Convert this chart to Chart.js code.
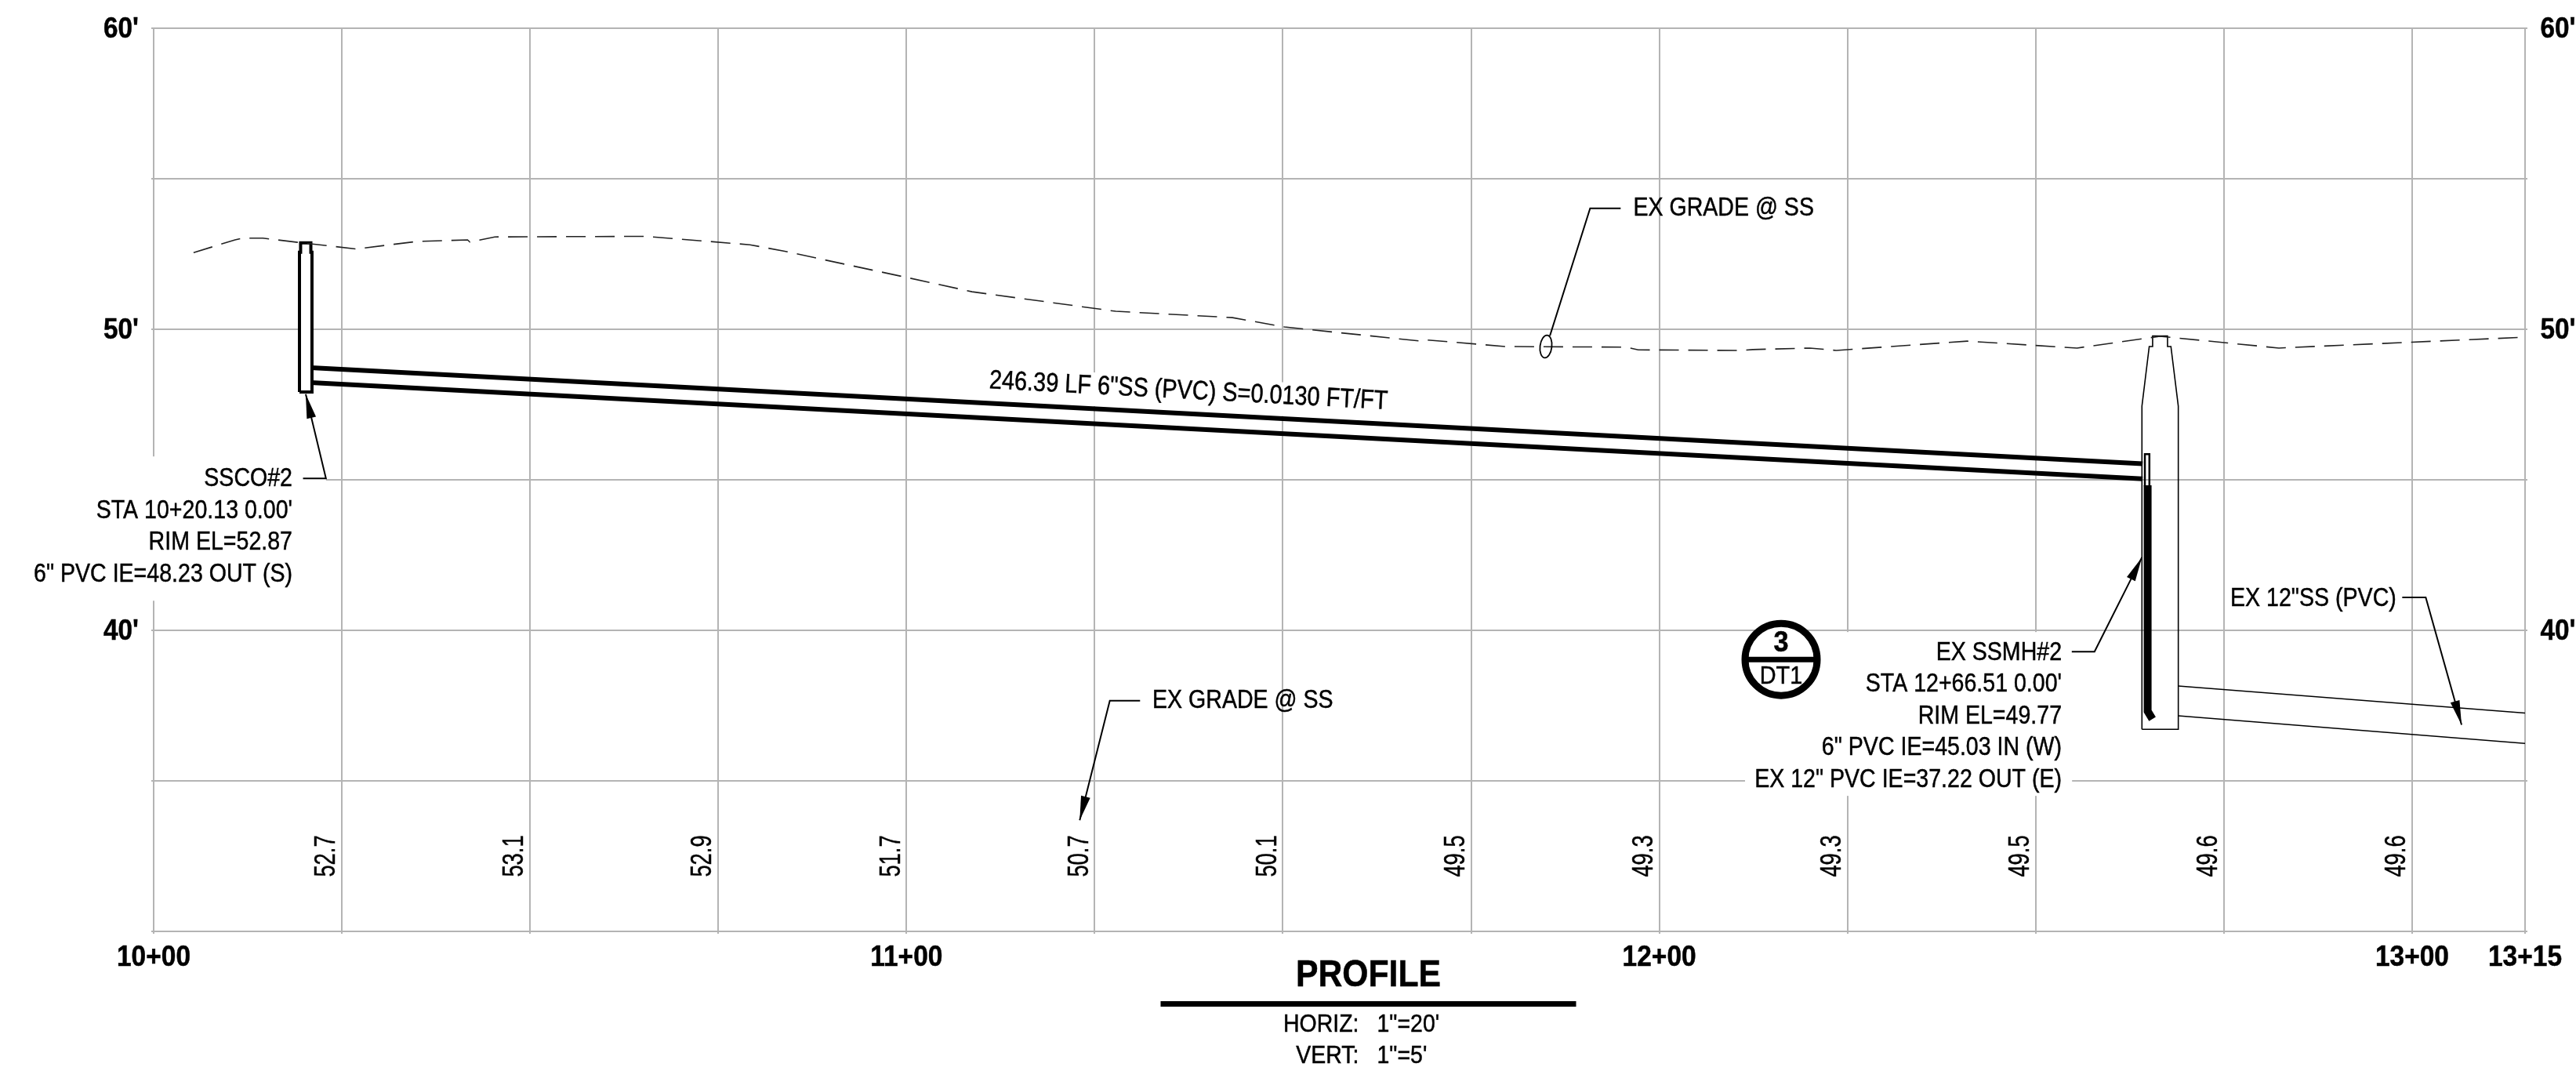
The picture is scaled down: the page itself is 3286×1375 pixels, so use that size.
<!DOCTYPE html>
<html>
<head>
<meta charset="utf-8">
<title>Profile</title>
<script src="https://cdn.jsdelivr.net/npm/chart.js@4/dist/chart.umd.min.js"></script>
<style>
  html, body { margin: 0; padding: 0; background: #fff; }
  canvas { display: block; }
</style>
</head>
<body>
<canvas id="profileChart" width="3286" height="1375"></canvas>
<script>
// stations are in feet (1000 = 10+00), elevations in feet
const gridStations = [1000, 1025, 1050, 1075, 1100, 1125, 1150, 1175, 1200, 1225, 1250, 1275, 1300, 1315];
const stationLabels = { 1000: "10+00", 1100: "11+00", 1200: "12+00", 1300: "13+00", 1315: "13+15" };
const elevationLabels = { 60: "60'", 50: "50'", 40: "40'" };

const gradeStations = [1005.3, 1010.8, 1011.8, 1014.5, 1019.5, 1026.9, 1035.0, 1041.7, 1042.0, 1045.3, 1065.3, 1079.2, 1083.7, 1100.1, 1108.7, 1127.8, 1143.3, 1150.2, 1168.3, 1169.1, 1179.5, 1195.6, 1197.2, 1210.7, 1212.4, 1220.0, 1223.5, 1240.9, 1255.5, 1266.5, 1282.3, 1315];
const gradeElevations = [52.54, 52.96, 53.02, 53.02, 52.87, 52.66, 52.91, 52.96, 52.89, 53.06, 53.08, 52.80, 52.59, 51.71, 51.24, 50.59, 50.38, 50.07, 49.60, 49.64, 49.42, 49.40, 49.31, 49.29, 49.32, 49.37, 49.29, 49.60, 49.37, 49.76, 49.37, 49.73];

const pipeStations = [1020.9, 1264.2];
const pipeTop = [48.72, 45.53];
const pipeBottom = [48.22, 45.03];

const cleanoutStations = [1019.37, 1021.03, 1021.03, 1020.88, 1020.88, 1019.52, 1019.52, 1019.37, 1019.37];
const cleanoutElevations = [47.91, 47.91, 52.55, 52.55, 52.86, 52.86, 52.55, 52.55, 47.91];

const manholeStations = [1264.11, 1268.94, 1268.94, 1267.96, 1267.51, 1267.51, 1265.53, 1265.53, 1265.08, 1264.11, 1264.11];
const manholeElevations = [36.71, 36.71, 47.44, 49.42, 49.42, 49.77, 49.77, 49.42, 49.42, 47.44, 36.71];

const dropStations = [1264.87, 1264.87, 1265.5];
const dropElevations = [44.81, 37.31, 37.05];
const dropCapStations = [1264.5, 1264.5, 1265.1, 1265.1];
const dropCapElevations = [44.78, 45.85, 45.85, 44.78];

const exPipeStations = [1268.94, 1315];
const exPipeTop = [38.15, 37.25];
const exPipeBottom = [37.16, 36.24];

const elevationStations = [1025, 1050, 1075, 1100, 1125, 1150, 1175, 1200, 1225, 1250, 1275, 1300];
const elevationValues = ["52.7", "53.1", "52.9", "51.7", "50.7", "50.1", "49.5", "49.3", "49.3", "49.5", "49.6", "49.6"];

const ssco = ["SSCO#2", "STA 10+20.13 0.00'", "RIM EL=52.87", "6\" PVC IE=48.23 OUT (S)"];
const ssmh = ["EX SSMH#2", "STA 12+66.51 0.00'", "RIM EL=49.77", "6\" PVC IE=45.03 IN (W)", "EX 12\" PVC IE=37.22 OUT (E)"];

const REG = '"Liberation Sans", Arial, sans-serif';

function zip(xs, ys) {
  return xs.map((x, i) => ({ x: x, y: ys[i] }));
}

function lineSet(xs, ys, width, extra) {
  return Object.assign({
    data: zip(xs, ys),
    borderColor: "#000",
    borderWidth: width,
    pointRadius: 0,
    showLine: true,
    tension: 0,
    fill: false,
  }, extra || {});
}

function putText(ctx, str, x, y, size, o) {
  o = o || {};
  ctx.save();
  ctx.translate(x, y);
  if (o.angle) ctx.rotate(o.angle);
  ctx.scale(o.squeeze || 0.84, 1);
  ctx.font = (o.bold ? "bold " : "") + size + "px " + REG;
  ctx.fillStyle = "#000";
  ctx.strokeStyle = "#000";
  ctx.lineWidth = 0.5;
  ctx.textAlign = o.align || "left";
  ctx.textBaseline = "middle";
  ctx.fillText(str, 0, 0);
  ctx.strokeText(str, 0, 0);
  ctx.restore();
}

// leader: polyline ending at the last point, optional arrow head there
function leader(ctx, pts, arrow) {
  ctx.strokeStyle = "#000";
  ctx.lineWidth = 2;
  ctx.beginPath();
  pts.forEach((p, i) => (i ? ctx.lineTo(p[0], p[1]) : ctx.moveTo(p[0], p[1])));
  ctx.stroke();
  if (!arrow) return;
  const a = pts[pts.length - 1];
  const b = pts[pts.length - 2];
  const ang = Math.atan2(a[1] - b[1], a[0] - b[0]);
  ctx.save();
  ctx.translate(a[0], a[1]);
  ctx.rotate(ang);
  ctx.fillStyle = "#000";
  ctx.beginPath();
  ctx.moveTo(0, 0);
  ctx.lineTo(-31, -6);
  ctx.lineTo(-31, 6);
  ctx.closePath();
  ctx.fill();
  ctx.restore();
}

function pipeAngle(chart) {
  const X = chart.scales.x;
  const Y = chart.scales.y;
  return Math.atan2(Y.getPixelForValue(pipeBottom[1]) - Y.getPixelForValue(pipeBottom[0]),
    X.getPixelForValue(pipeStations[1]) - X.getPixelForValue(pipeStations[0]));
}

// white boxes the drawing puts behind its text blocks
const maskPlugin = {
  id: "masks",
  beforeDatasetsDraw(chart) {
    const ctx = chart.ctx;
    const X = chart.scales.x;
    const Y = chart.scales.y;
    ctx.save();
    ctx.fillStyle = "#fff";
    [[980, 1022.89, 45.77, 40.98], [1211.39, 1254.83, 39.94, 34.5]].forEach((m) => {
      ctx.fillRect(X.getPixelForValue(m[0]), Y.getPixelForValue(m[2]),
        X.getPixelForValue(m[1]) - X.getPixelForValue(m[0]), Y.getPixelForValue(m[3]) - Y.getPixelForValue(m[2]));
    });
    const ang = pipeAngle(chart);
    ctx.translate(X.getPixelForValue(1137.46), Y.getPixelForValue(47.85));
    ctx.rotate(ang);
    ctx.fillRect(-262, -21, 524, 43);
    ctx.restore();
  },
};

const notesPlugin = {
  id: "notes",
  afterDatasetsDraw(chart) {
    const ctx = chart.ctx;
    const X = chart.scales.x;
    const Y = chart.scales.y;
    const R = chart.scales.yRight;
    const at = (s, e) => [X.getPixelForValue(s), Y.getPixelForValue(e)];
    const lineStep = 40.5;
    let p;
    ctx.save();

    // axis labels come from the scales, narrowed like the drawing's lettering
    X.ticks.forEach((t) => {
      if (t.label) putText(ctx, t.label, X.getPixelForValue(t.value), chart.chartArea.bottom + 34, 36, { align: "center", bold: true, squeeze: 0.93 });
    });
    Y.ticks.forEach((t) => {
      if (t.label) putText(ctx, t.label, chart.chartArea.left - 19, Y.getPixelForValue(t.value) + 2, 37, { align: "right", bold: true, squeeze: 0.9 });
    });
    R.ticks.forEach((t) => {
      if (t.label) putText(ctx, t.label, chart.chartArea.right + 19.5, R.getPixelForValue(t.value) + 2, 37, { bold: true, squeeze: 0.9 });
    });

    // leaders
    leader(ctx, [at(1019.84, 45.04), at(1022.89, 45.04), at(1020.2, 47.84)], true);
    leader(ctx, [at(1131.03, 37.66), at(1127.01, 37.66), at(1123.01, 33.69)], true);
    leader(ctx, [at(1194.87, 54.01), at(1190.81, 54.01), at(1185.47, 49.78)], false);
    leader(ctx, [at(1254.79, 39.29), at(1257.81, 39.29), at(1264.11, 42.42)], true);
    leader(ctx, [at(1298.69, 41.09), at(1301.81, 41.09), at(1306.57, 36.86)], true);

    // ellipse on the grade line
    p = at(1184.94, 49.42);
    ctx.lineWidth = 1.8;
    ctx.strokeStyle = "#000";
    ctx.beginPath();
    ctx.ellipse(p[0], p[1], 7.5, 14.5, 0.12, 0, Math.PI * 2);
    ctx.stroke();

    // callouts
    p = at(1018.43, 45.02);
    ssco.forEach((t, i) => putText(ctx, t, p[0], p[1] + i * lineStep, 34, { align: "right" }));
    p = at(1253.46, 39.26);
    ssmh.forEach((t, i) => putText(ctx, t, p[0], p[1] + i * lineStep, 34, { align: "right" }));
    p = at(1297.9, 41.06);
    putText(ctx, "EX 12\"SS (PVC)", p[0], p[1], 34, { align: "right" });
    p = at(1196.54, 54.0);
    putText(ctx, "EX GRADE @ SS", p[0], p[1], 34);
    p = at(1132.67, 37.66);
    putText(ctx, "EX GRADE @ SS", p[0], p[1], 34);
    p = at(1137.46, 47.93);
    putText(ctx, "246.39 LF 6\"SS (PVC) S=0.0130 FT/FT", p[0], p[1], 34, { align: "center", angle: pipeAngle(chart), squeeze: 0.85 });

    // detail bubble
    p = at(1216.18, 39.03);
    ctx.beginPath();
    ctx.arc(p[0], p[1], 46, 0, Math.PI * 2);
    ctx.fillStyle = "#fff";
    ctx.fill();
    ctx.lineWidth = 9;
    ctx.strokeStyle = "#000";
    ctx.stroke();
    ctx.lineWidth = 7;
    ctx.beginPath();
    ctx.moveTo(p[0] - 46, p[1]);
    ctx.lineTo(p[0] + 46, p[1]);
    ctx.stroke();
    putText(ctx, "3", p[0], p[1] - 20, 36, { align: "center", bold: true, squeeze: 0.95 });
    putText(ctx, "DT1", p[0], p[1] + 22, 31, { align: "center", squeeze: 0.93 });

    // existing grade values along the bottom
    elevationStations.forEach((s, i) => {
      putText(ctx, elevationValues[i], X.getPixelForValue(s) - 19, Y.getPixelForValue(32.5), 37,
        { align: "center", angle: -Math.PI / 2, squeeze: 0.74 });
    });

    // title block under the axis
    const tx = (X.getPixelForValue(1000) + X.getPixelForValue(1315)) / 2 + 37;
    const base = chart.chartArea.bottom;
    putText(ctx, "PROFILE", tx, base + 57, 48, { align: "center", bold: true, squeeze: 0.89 });
    ctx.fillStyle = "#000";
    ctx.fillRect(tx - 265, base + 89, 530, 7);
    putText(ctx, "HORIZ:", tx - 12, base + 119, 32, { align: "right", squeeze: 0.89 });
    putText(ctx, "1\"=20'", tx + 11, base + 119, 32, { squeeze: 0.89 });
    putText(ctx, "VERT:", tx - 12, base + 159, 32, { align: "right", squeeze: 0.89 });
    putText(ctx, "1\"=5'", tx + 11, base + 159, 32, { squeeze: 0.89 });
    ctx.restore();
  },
};

const gridGray = "#b4b4b4";

new Chart(document.getElementById("profileChart").getContext("2d"), {
  type: "scatter",
  plugins: [maskPlugin, notesPlugin],
  data: {
    datasets: [
      lineSet(gradeStations, gradeElevations, 1.6, { borderColor: "#222", borderDash: [25, 12] }),
      lineSet(pipeStations, pipeTop, 6),
      lineSet(pipeStations, pipeBottom, 6),
      lineSet(cleanoutStations, cleanoutElevations, 4, { fill: "shape", backgroundColor: "#fff" }),
      lineSet(manholeStations, manholeElevations, 1.6),
      lineSet(dropStations, dropElevations, 10),
      lineSet(dropCapStations, dropCapElevations, 2.5),
      lineSet(exPipeStations, exPipeTop, 1.6),
      lineSet(exPipeStations, exPipeBottom, 1.6),
    ],
  },
  options: {
    responsive: false,
    devicePixelRatio: 1,
    animation: false,
    layout: { padding: { top: 35.6, left: 0, right: 0, bottom: 0 } },
    plugins: { legend: { display: false }, tooltip: { enabled: false } },
    scales: {
      x: {
        type: "linear",
        min: 1000,
        max: 1315,
        afterBuildTicks: (axis) => {
          axis.ticks = gridStations.map((v) => ({ value: v }));
        },
        afterFit: (axis) => {
          axis.height = 187;
        },
        border: { display: false },
        grid: { color: gridGray, lineWidth: 2, tickLength: 3 },
        ticks: {
          display: false,
          autoSkip: false,
          callback: (v) => stationLabels[v] || "",
        },
      },
      y: {
        position: "left",
        min: 30,
        max: 60,
        afterFit: (axis) => {
          axis.width = 196;
        },
        border: { display: false },
        grid: { color: gridGray, lineWidth: 2, tickLength: 3 },
        ticks: {
          display: false,
          stepSize: 5,
          callback: (v) => elevationLabels[v] || "",
        },
      },
      yRight: {
        position: "right",
        min: 30,
        max: 60,
        afterFit: (axis) => {
          axis.width = 65;
        },
        border: { display: false },
        grid: { color: gridGray, lineWidth: 2, tickLength: 3, drawOnChartArea: false },
        ticks: {
          display: false,
          stepSize: 5,
          callback: (v) => elevationLabels[v] || "",
        },
      },
    },
  },
});
</script>
</body>
</html>
